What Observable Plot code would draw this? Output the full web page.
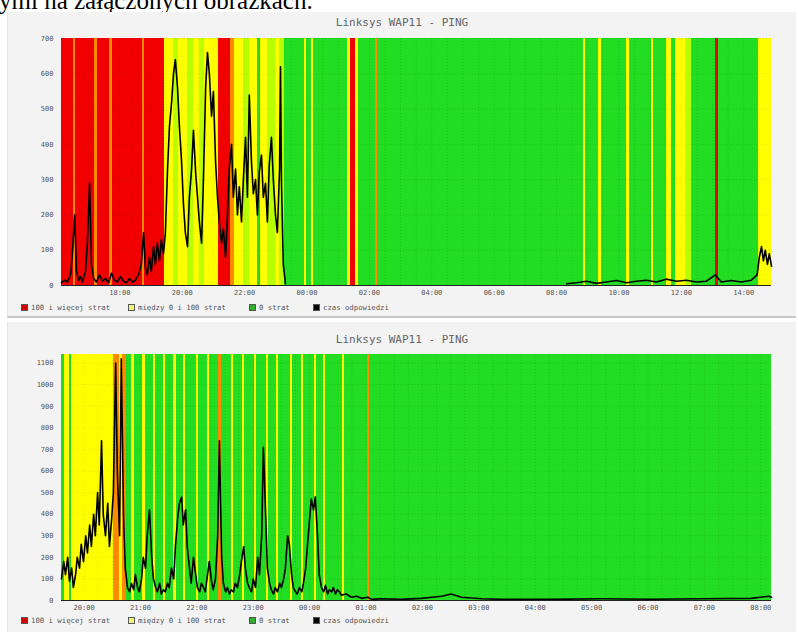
<!DOCTYPE html>
<html><head><meta charset="utf-8">
<script src="https://cdn.jsdelivr.net/npm/d3@7"></script>
<script src="https://cdn.jsdelivr.net/npm/@observablehq/plot@0.6"></script>
<style>
html,body{margin:0;padding:0;}
body{width:798px;height:632px;overflow:hidden;background:#fff;position:relative;font-family:"DejaVu Sans Mono",monospace;}
#intro{position:absolute;left:-1px;top:-12px;font:25px/25px "Liberation Serif",serif;color:#000;white-space:nowrap;}
.panel{position:absolute;left:7px;width:788px;background:#f3f3f3;border-left:1px solid #e4e4e4;overflow:hidden;}
.panel svg{position:absolute;left:0;top:0;}
.title{position:absolute;left:0;right:0;text-align:center;font-size:11px;color:#666;}
.legend{position:absolute;left:0;top:0;width:100%;height:12px;font-size:7.3px;color:#555;}
.item{position:absolute;white-space:nowrap;}
.sw{display:inline-block;width:5px;height:5px;border:1px solid #555;vertical-align:-1px;margin-right:3px;}
</style>
</head><body>
<div id="intro">ymi na załączonych obrazkach.</div>
<div class="panel" id="p1" style="top:12px;height:304px;border-bottom:2px solid #c8c8c8;"></div>
<div class="panel" id="p2" style="top:322px;height:310px;"></div>
<script>
// ---------- data ----------
const chartTitle = "Linksys WAP11 - PING";
const legendLabels = ["100 i więcej strat", "między 0 i 100 strat", "0 strat", "czas odpowiedzi"];

// top chart (hours since midnight of day 1)
const topRange = [16.13, 38.89];
const topYMax = 700;
const topYTicks = [0, 100, 200, 300, 400, 500, 600, 700];
// loss status bands: start hour and code (r = 100% loss, o/y/l = partial loss, g = no loss)
const topBandStart = [16.13,16.51,16.58,17.19,17.28,17.67,17.76,18.73,18.79,19.43,19.72,19.88,20.17,20.36,20.55,20.71,21.16,21.55,21.68,21.96,22.16,22.41,22.51,22.73,22.99,23.12,23.28,23.92,23.98,24.14,24.21,25.30,25.39,25.55,25.65,26.19,26.26,32.86,32.92,33.34,33.44,34.24,34.34,35.04,35.10,35.52,35.68,35.81,36.13,36.32,37.09,37.19,38.47];
const topBandCode  = ["r","o","r","o","r","o","r","o","r","y","l","y","l","y","l","y","r","o","y","l","y","g","y","l","y","l","g","y","g","y","g","y","r","y","g","o","g","y","g","y","g","y","g","y","g","y","g","y","l","g","r","g","y"];
// response time [hour, ms]
const topPing = [
[16.13,8],[16.23,15],[16.32,10],[16.42,30],[16.48,90],[16.55,200],[16.61,40],[16.68,15],[16.74,25],[16.80,10],
[16.90,40],[16.96,120],[17.03,290],[17.09,60],[17.16,20],[17.25,10],[17.35,30],[17.44,12],[17.54,20],[17.64,8],
[17.73,35],[17.83,15],[17.92,10],[18.02,25],[18.12,12],[18.21,8],[18.31,20],[18.41,10],[18.50,15],[18.60,30],
[18.69,60],[18.76,150],[18.82,50],[18.88,30],[18.95,80],[19.01,40],[19.08,110],[19.14,60],[19.20,120],[19.27,70],
[19.33,130],[19.40,90],
[19.46,150],[19.53,330],[19.59,450],[19.66,520],[19.72,600],[19.78,640],[19.85,560],[19.91,450],[19.98,350],[20.04,230],
[20.10,150],[20.17,110],[20.23,250],[20.30,330],[20.36,440],[20.43,320],[20.49,250],[20.55,180],[20.62,120],[20.68,300],
[20.75,560],[20.81,660],[20.87,600],[20.94,480],[21.00,550],[21.07,350],[21.13,250],[21.19,180],[21.26,120],[21.32,160],
[21.39,80],[21.45,200],[21.51,330],[21.58,400],[21.64,250],[21.71,330],[21.77,200],[21.83,280],[21.90,180],[21.96,300],
[22.03,420],[22.09,250],[22.15,540],[22.22,350],[22.28,260],[22.35,300],[22.41,200],[22.47,320],[22.54,370],[22.60,250],
[22.67,290],[22.73,180],[22.79,340],[22.86,420],[22.92,300],[22.99,200],[23.05,150],[23.12,330],[23.15,620],[23.18,300],
[23.24,60],[23.31,5],[23.35,NaN],
[32.32,5],[32.64,8],[32.96,12],[33.28,6],[33.60,10],[33.92,14],[34.24,8],[34.56,12],[34.88,15],[35.20,10],
[35.52,18],[35.84,12],[36.16,15],[36.48,10],[36.80,12],[37.09,30],[37.28,10],[37.60,14],[37.92,10],[38.24,15],
[38.43,30],[38.50,80],[38.57,110],[38.63,70],[38.69,100],[38.76,60],[38.82,90],[38.89,55]
];

// bottom chart
const botRange = [19.60, 32.19];
const botYMax = 1140;
const botYTicks = [0,100,200,300,400,500,600,700,800,900,1000,1100];
const botBandStart = [19.60,19.65,19.74,19.78,20.52,20.63,20.68,20.75,20.84,20.89,21.04,21.09,21.23,21.27,21.41,21.44,21.59,21.64,21.76,21.80,21.99,22.03,22.19,22.22,22.38,22.44,22.61,22.65,22.81,22.85,23.02,23.06,23.24,23.27,23.41,23.45,23.66,23.70,23.86,23.89,24.09,24.12,24.25,24.28,24.58,24.62,25.03,25.06];
const botBandCode  = ["g","y","g","y","o","y","o","g","y","g","y","g","y","g","y","g","y","g","y","g","y","g","y","g","o","g","y","g","y","g","y","g","y","g","y","g","y","g","y","g","y","g","y","g","y","g","o","g"];
const botPing = [
[19.60,100],[19.64,180],[19.67,120],[19.71,200],[19.74,90],[19.78,150],[19.81,60],[19.85,120],[19.88,200],[19.92,150],
[19.95,260],[19.99,180],[20.03,300],[20.06,220],[20.10,350],[20.13,250],[20.17,400],[20.20,300],[20.24,500],[20.27,350],
[20.31,740],[20.34,400],[20.38,300],[20.42,450],[20.45,250],[20.49,380],[20.52,500],[20.56,1100],[20.59,600],[20.63,300],
[20.66,1120],[20.70,400],[20.73,150],[20.77,60],[20.81,40],[20.84,80],[20.88,50],[20.91,120],[20.95,60],[20.98,40],
[21.02,100],[21.05,200],[21.09,150],[21.12,300],[21.16,420],[21.20,200],[21.23,100],[21.27,60],[21.30,40],[21.34,80],
[21.37,30],[21.41,50],[21.44,40],[21.48,80],[21.51,60],[21.55,150],[21.59,100],[21.62,250],[21.66,380],[21.69,450],
[21.73,480],[21.76,350],[21.80,420],[21.83,250],[21.87,150],[21.90,80],[21.94,200],[21.98,120],[22.01,60],[22.05,40],
[22.08,80],[22.12,60],[22.15,40],[22.19,120],[22.22,180],[22.26,90],[22.29,50],[22.33,100],[22.37,300],[22.40,740],
[22.44,200],[22.47,80],[22.51,40],[22.54,60],[22.58,30],[22.61,50],[22.65,40],[22.68,80],[22.72,60],[22.76,120],
[22.79,180],[22.83,250],[22.86,150],[22.90,80],[22.93,60],[22.97,40],[23.00,100],[23.04,60],[23.08,200],[23.11,120],
[23.15,300],[23.18,710],[23.22,400],[23.25,150],[23.29,80],[23.32,50],[23.36,30],[23.39,60],[23.43,40],[23.47,80],
[23.50,60],[23.54,100],[23.57,150],[23.61,300],[23.64,260],[23.68,120],[23.71,60],[23.75,40],[23.78,30],[23.82,60],
[23.86,40],[23.89,80],[23.93,150],[23.96,250],[24.00,380],[24.03,470],[24.07,420],[24.10,480],[24.14,300],[24.17,120],
[24.21,60],[24.25,40],[24.28,70],[24.32,30],[24.35,50],[24.39,40],[24.42,60],[24.46,30],[24.49,50],[24.53,40],
[24.56,25],[24.65,30],[24.74,15],[24.83,20],[24.92,10],[25.03,15],[25.10,5],[25.27,8],[25.63,5],[25.98,10],
[26.34,20],[26.51,30],[26.69,15],[27.05,8],[27.40,5],[28.29,5],[29.17,8],[30.06,6],[30.95,8],[31.83,10],
[32.15,20],[32.19,15]
];

// ---------- drawing ----------
const codeColor = {r:"#f20000", o:"#ff8a00", y:"#ffff00", l:"#b8ff00", g:"#22dd22"};
const base = Date.UTC(2012, 4, 14);
const toDate = h => new Date(base + h * 3600000);

function makeChart(o) {
  const end = o.range[1];
  const bands = o.bandStart.map((s, i) => ({
    x1: toDate(s),
    x2: toDate(i + 1 < o.bandStart.length ? o.bandStart[i + 1] : end),
    code: o.bandCode[i]
  }));
  const pts = o.ping.map(([h, v]) => ({t: toDate(h), v}));
  const x0 = toDate(o.range[0]), x1 = toDate(end);
  const xt = d3.utcHour.every(o.tickHours).range(x0, x1);
  const xg = d3.utcMinute.every(o.gridMinutes).range(x0, x1);
  return Plot.plot({
    width: 788, height: 300,
    marginLeft: 53, marginRight: 25, marginTop: o.mt, marginBottom: o.mb,
    style: {background: "transparent", fontFamily: "DejaVu Sans Mono, monospace", fontSize: "7px", color: "#555"},
    x: {type: "utc", domain: [x0, x1], ticks: xt, tickFormat: d3.utcFormat("%H:%M"), tickSize: 0, tickPadding: 5, label: null},
    y: {domain: [0, o.yMax], ticks: o.yTicks, tickFormat: d3.format("d"), tickSize: 0, tickPadding: 8, label: null},
    marks: [
      Plot.rect(bands, {x1: "x1", x2: "x2", y1: 0, y2: o.yMax, fill: d => codeColor[d.code], shapeRendering: "crispEdges"}),
      Plot.ruleX(xg, {stroke: "#000", strokeOpacity: 0.1, strokeDasharray: "1,2"}),
      Plot.ruleY(o.yTicks, {stroke: "#000", strokeOpacity: 0.1, strokeDasharray: "1,2"}),
      Plot.line(pts, {x: "t", y: "v", stroke: "#000", strokeWidth: 1.6, curve: "linear"}),
      Plot.ruleY([0], {stroke: "#222", strokeWidth: 1})
    ]
  });
}

const legendColors = ["#d40000", "#f2f27a", "#2fae2f", "#000"];
const legendX = [13, 120, 241, 305];

function buildPanel(id, chart, titleTop, legendTop) {
  const p = document.getElementById(id);
  p.appendChild(chart);
  const t = document.createElement("div");
  t.className = "title"; t.style.top = titleTop + "px"; t.textContent = chartTitle;
  p.appendChild(t);
  const lg = document.createElement("div");
  lg.className = "legend"; lg.style.top = legendTop + "px";
  legendLabels.forEach((lab, i) => {
    const it = document.createElement("span");
    it.className = "item"; it.style.left = legendX[i] + "px";
    const sw = document.createElement("span");
    sw.className = "sw"; sw.style.background = legendColors[i];
    it.appendChild(sw);
    it.appendChild(document.createTextNode(lab));
    lg.appendChild(it);
  });
  p.appendChild(lg);
}

buildPanel("p1", makeChart({range: topRange, yMax: topYMax, yTicks: topYTicks, bandStart: topBandStart, bandCode: topBandCode,
  ping: topPing, tickHours: 2, gridMinutes: 30, mt: 26, mb: 27}), 4, 291);
buildPanel("p2", makeChart({range: botRange, yMax: botYMax, yTicks: botYTicks, bandStart: botBandStart, bandCode: botBandCode,
  ping: botPing, tickHours: 1, gridMinutes: 15, mt: 32, mb: 22}), 11, 294);
</script>
</body></html>
